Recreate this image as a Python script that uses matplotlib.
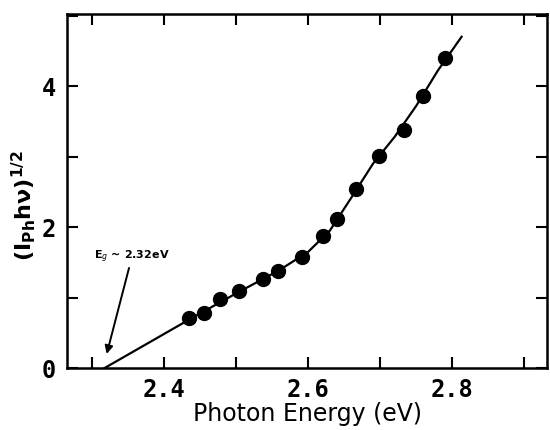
import matplotlib
matplotlib.use("Agg")
import matplotlib.pyplot as plt
from matplotlib.ticker import MultipleLocator, FixedLocator

# measured photoresponse points
energy = [2.435, 2.455, 2.477, 2.504, 2.537, 2.558, 2.591, 2.621, 2.640, 2.666, 2.698, 2.733, 2.759, 2.790]
signal = [0.71, 0.78, 0.98, 1.09, 1.26, 1.38, 1.57, 1.87, 2.12, 2.54, 3.01, 3.38, 3.86, 4.40]

# hand-drawn guide line
line_x = [2.317, 2.44, 2.50, 2.56, 2.60, 2.63, 2.66, 2.69, 2.72, 2.75, 2.78, 2.813]
line_y = [0.0, 0.72, 1.06, 1.39, 1.65, 1.95, 2.42, 2.90, 3.28, 3.72, 4.22, 4.70]

xticks = [2.4, 2.6, 2.8]
yticks = [0, 2, 4]

plt.rcParams['font.family'] = ['DejaVu Sans']
fig = plt.figure(figsize=(5.5, 4.3), dpi=100)
ax = fig.add_axes([0.122, 0.144, 0.873, 0.823])

ax.plot(line_x, line_y, color='black', lw=1.6, zorder=2)
ax.plot(energy, signal, 'o', color='black', ms=10, zorder=3)

ax.annotate('E$_g$ ~ 2.32eV', xy=(2.320, 0.20), xytext=(2.355, 1.46),
            fontsize=8, fontweight='bold', ha='center', va='bottom',
            arrowprops=dict(arrowstyle='-|>', color='black', lw=1.4,
                            mutation_scale=12, shrinkA=0, shrinkB=0))

ax.set_xlim(2.265, 2.932)
ax.set_ylim(0, 5.02)
ax.xaxis.set_major_locator(FixedLocator(xticks))
ax.xaxis.set_minor_locator(MultipleLocator(0.1))
ax.yaxis.set_major_locator(FixedLocator(yticks))
ax.yaxis.set_minor_locator(MultipleLocator(1))
ax.tick_params(which='both', direction='in', length=8, width=1.5,
               top=True, right=True, labelsize=17)
ax.tick_params(axis='x', pad=7)
ax.tick_params(axis='y', pad=8)
for lab in ax.get_xticklabels() + ax.get_yticklabels():
    lab.set_fontfamily('DejaVu Sans Mono')
    lab.set_fontweight('bold')
for s in ax.spines.values():
    s.set_linewidth(1.8)

ax.set_xlabel('Photon Energy (eV)', fontsize=17, labelpad=0)
ax.set_ylabel(r'(I$_{\mathbf{Ph}}$h$\mathbf{\nu}$)$^{\mathbf{1/2}}$', fontsize=16,
              fontweight='bold')
ax.yaxis.set_label_coords(-0.06, 0.46)

fig.savefig('out.png', dpi=100)
